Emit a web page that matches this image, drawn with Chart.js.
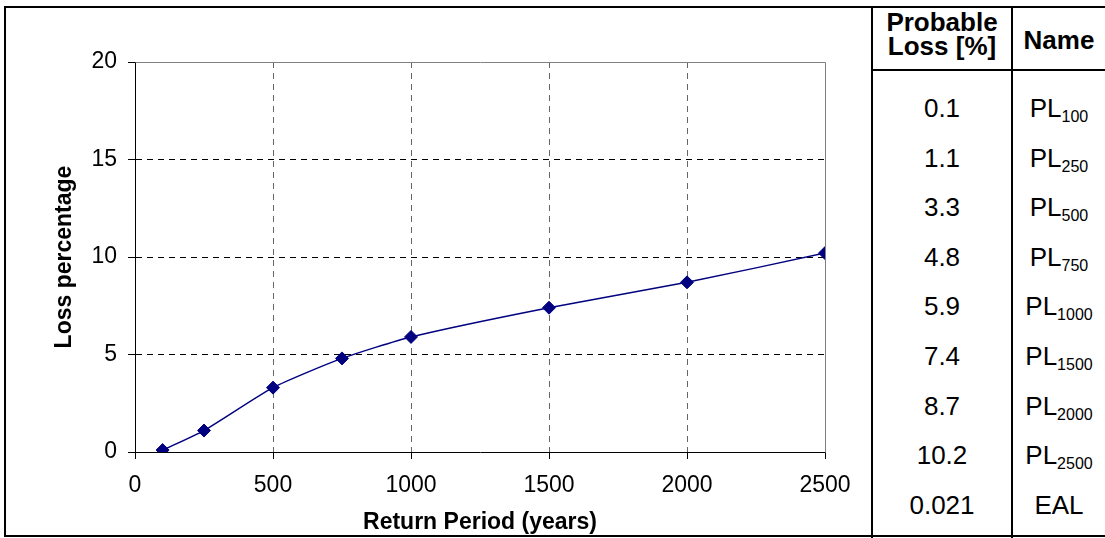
<!DOCTYPE html>
<html>
<head>
<meta charset="utf-8">
<script src="https://cdn.jsdelivr.net/npm/chart.js@4.4.1/dist/chart.umd.min.js"></script>
<style>
  html, body { margin: 0; padding: 0; background: #fff; }
  #page { position: relative; width: 1105px; height: 538px; overflow: hidden; font-family: Arial, "Liberation Sans", sans-serif; color: #000; }
  #frame { position: absolute; left: 4px; top: 6px; width: 1120px; height: 527px; border: 2px solid #000; }
  .vl { position: absolute; top: 6px; width: 2px; height: 532px; background: #000; }
  #hl { position: absolute; left: 871px; top: 69px; width: 240px; height: 2px; background: #000; }
  #wrap { position: absolute; left: 6px; top: 8px; width: 865px; height: 528px; }
  .cell { position: absolute; text-align: center; font-size: 26px; line-height: 24px; white-space: nowrap; }
  .hd { font-weight: bold; }
  sub { font-size: 16px; vertical-align: -5px; line-height: 0; }
</style>
</head>
<body>
<div id="page">
  <div id="frame"></div>
  <div id="wrap"><canvas id="c" width="865" height="528"></canvas></div>
  <div class="vl" style="left:871px"></div>
  <div class="vl" style="left:1011px"></div>
  <div id="hl"></div>
  <div id="tbl"></div>
</div>
<script>
  "use strict";

  // return periods (years) and probable loss (%)
  const returnPeriods = [100, 250, 500, 750, 1000, 1500, 2000, 2500];
  const lossPct = [0.1, 1.1, 3.3, 4.8, 5.9, 7.4, 8.7, 10.2];

  // table columns
  const colHeads = ["Probable<br>Loss [%]", "Name"];
  const tableValues = ["0.1", "1.1", "3.3", "4.8", "5.9", "7.4", "8.7", "10.2", "0.021"];
  const tableNames = ["PL<sub>100</sub>", "PL<sub>250</sub>", "PL<sub>500</sub>", "PL<sub>750</sub>",
    "PL<sub>1000</sub>", "PL<sub>1500</sub>", "PL<sub>2000</sub>", "PL<sub>2500</sub>", "EAL"];

  const xTicks = [0, 500, 1000, 1500, 2000, 2500];
  const yTicks = [0, 5, 10, 15, 20];

  const NAVY = "#000080";
  const FONT = "Arial, 'Liberation Sans', sans-serif";

  function buildTable() {
    const t = document.getElementById("tbl");
    let html = "";
    html += '<div class="cell hd" style="left:873px;width:138px;top:10px">' + colHeads[0] + "</div>";
    html += '<div class="cell hd" style="left:1013px;width:92px;top:28px">' + colHeads[1] + "</div>";
    const y0 = 96, dy = 49.6;
    for (let i = 0; i < tableValues.length; i++) {
      const top = Math.round(y0 + i * dy);
      html += '<div class="cell" style="left:873px;width:138px;top:' + top + 'px">' + tableValues[i] + "</div>";
      html += '<div class="cell" style="left:1013px;width:92px;top:' + top + 'px">' + tableNames[i] + "</div>";
    }
    t.innerHTML = html;
  }

  // top and right edge of the plot area, solid grey
  const frameEdges = {
    id: "frameEdges",
    afterDraw(chart) {
      const a = chart.chartArea;
      const ctx = chart.ctx;
      ctx.save();
      ctx.strokeStyle = "#808080";
      ctx.lineWidth = 1;
      ctx.beginPath();
      ctx.moveTo(Math.floor(a.left) + 0.5, Math.floor(a.top) + 0.5);
      ctx.lineTo(Math.floor(a.right) + 0.5, Math.floor(a.top) + 0.5);
      ctx.lineTo(Math.floor(a.right) + 0.5, Math.floor(a.bottom) + 0.5);
      ctx.stroke();
      ctx.restore();
    },
  };

  function gridColor(col) {
    return function (ctx) {
      const v = ctx.tick && ctx.tick.value;
      if (v === 0 || v === 20 || v === 2500) return "rgba(0,0,0,0)";
      return col;
    };
  }

  buildTable();

  new Chart(document.getElementById("c"), {
    type: "line",
    data: {
      datasets: [{
        data: returnPeriods.map((x, i) => ({ x: x, y: lossPct[i] })),
        borderColor: NAVY,
        backgroundColor: NAVY,
        borderWidth: 1.5,
        tension: 0.2,
        pointStyle: "rectRot",
        pointRadius: 6.5,
        pointBorderWidth: 1,
        pointBackgroundColor: NAVY,
        pointBorderColor: NAVY,
        fill: false,
      }],
    },
    options: {
      responsive: false,
      animation: false,
      layout: { padding: { top: 54, right: 46, left: 0, bottom: 0 } },
      plugins: { legend: { display: false }, tooltip: { enabled: false } },
      scales: {
        x: {
          type: "linear",
          min: 0,
          max: 2500,
          afterBuildTicks: (s) => { s.ticks = xTicks.map((v) => ({ value: v })); },
          afterFit: (s) => { s.height = 84; },
          border: { display: true, color: "#000", width: 1, dash: [6, 5] },
          grid: { color: gridColor("#666"), tickColor: "#000", tickLength: 7, lineWidth: 1 },
          ticks: {
            color: "#000", padding: 13, maxRotation: 0,
            font: { family: FONT, size: 23 },
            callback: (v) => String(v),
          },
          title: {
            display: true,
            text: "Return Period (years)",
            color: "#000",
            font: { family: FONT, size: 23, weight: "bold" },
            padding: { top: 0, bottom: 0 },
          },
        },
        y: {
          type: "linear",
          min: 0,
          max: 20,
          afterBuildTicks: (s) => { s.ticks = yTicks.map((v) => ({ value: v })); },
          afterFit: (s) => { s.width = 129; },
          border: { display: true, color: "#000", width: 1, dash: [6, 5] },
          grid: { color: gridColor("#000"), tickColor: "#000", tickLength: 7, lineWidth: 1 },
          ticks: {
            color: "#000", padding: 11,
            font: { family: FONT, size: 23 },
            callback: (v) => String(v),
          },
          title: {
            display: true,
            text: "Loss percentage",
            color: "#000",
            font: { family: FONT, size: 23, weight: "bold" },
            padding: { top: 45, bottom: 0 },
          },
        },
      },
    },
    plugins: [frameEdges],
  });
</script>
</body>
</html>
